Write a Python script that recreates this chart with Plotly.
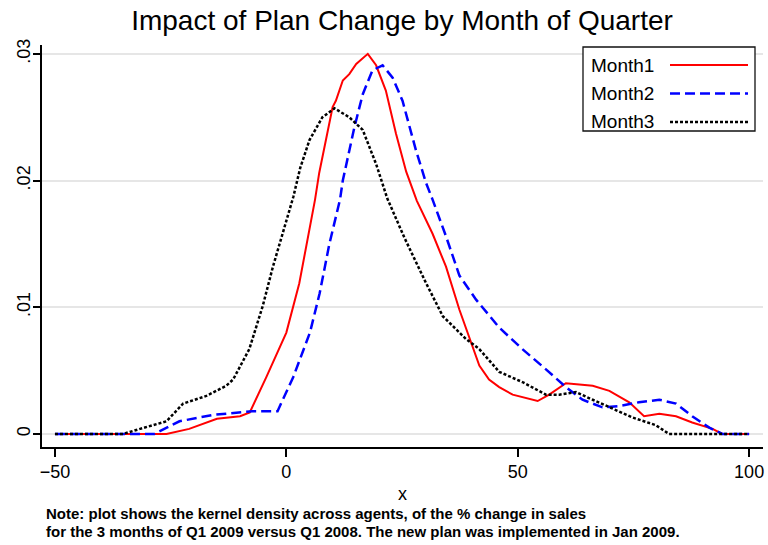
import plotly.graph_objects as go

# Kernel density of % change in sales, by month of the quarter
m1_x = [-50, -28.4, -25.9, -21, -15, -10, -7.9, -4.3, 0, 2.8, 4.8, 6.2, 7.1, 10, 10.7,
        12.2, 13.6, 15.1, 17.6, 19.4, 21.5, 23.7, 25.9, 28.2, 31.6, 34.5, 37.4, 40.2,
        41.7, 43.8, 46, 48.9, 54.3, 56.8, 60.4, 63.3, 66.2, 69.8, 74.1, 77.3, 80.6,
        84.2, 87.7, 92.1, 94.2, 100]
m1_y = [0, 0, 0, 0.0004, 0.0012, 0.0014, 0.0017, 0.0045, 0.0080, 0.0119, 0.0158, 0.0185,
        0.0206, 0.0258, 0.0263, 0.0279, 0.0284, 0.0292, 0.0300, 0.0291, 0.0271, 0.0237,
        0.0207, 0.0184, 0.0158, 0.0132, 0.0098, 0.0069, 0.0054, 0.0043, 0.0037, 0.0031,
        0.0026, 0.0031, 0.0040, 0.0039, 0.0038, 0.0034, 0.0025, 0.0014, 0.0016, 0.0014,
        0.0009, 0.0004, 0, 0]

m2_x = [-50, -28.5, -23.1, -15.9, -7.3, -1.9, 1.5, 5.1, 7.2, 9.3, 11.6, 12.2, 14.7, 16.5,
        18.6, 20.8, 23, 25.1, 28, 30.2, 31.6, 34.5, 37.4, 41, 46, 51, 56.1, 60.4, 64,
        68.3, 71.9, 76.2, 80.6, 84.2, 87.7, 91.4, 94.2, 100]
m2_y = [0, 0, 0.0010, 0.0015, 0.0018, 0.0018, 0.0045, 0.0080, 0.0111, 0.0150, 0.0185,
        0.0200, 0.0242, 0.0268, 0.0287, 0.0291, 0.0281, 0.0263, 0.0224, 0.0198, 0.0185,
        0.0156, 0.0125, 0.0106, 0.0084, 0.0067, 0.0051, 0.0037, 0.0027, 0.0021, 0.0022,
        0.0025, 0.0027, 0.0024, 0.0014, 0.0005, 0, 0]

m3_x = [-50, -35.3, -31.6, -25.9, -22.3, -17.3, -13, -11.5, -8, -5.1, -2.9, -0.8, 1.5,
        3.0, 5, 7.8, 10.4, 13.6, 16.5, 19.4, 21.8, 25.5, 30.2, 33.8, 38.8, 41.7, 46, 51,
        56.1, 59, 62.6, 66.2, 70.5, 74.8, 79.8, 82.7, 100]
m3_y = [0, 0, 0.0004, 0.0010, 0.0024, 0.0030, 0.0038, 0.0043, 0.0067, 0.0101, 0.0132,
        0.0158, 0.0187, 0.0210, 0.0232, 0.0250, 0.0257, 0.0250, 0.0240, 0.0213, 0.0186,
        0.0155, 0.0119, 0.0093, 0.0075, 0.0067, 0.0049, 0.0041, 0.0031, 0.0031, 0.0033,
        0.0027, 0.0020, 0.0013, 0.0007, 0, 0]

series_names = ["Month1", "Month2", "Month3"]
series_colors = ["#ff0000", "#0000ff", "#000000"]
series_dash = ["solid", "10px,5px", "3px,2px"]
series_width = [2, 2.5, 2.5]
y_ticks = [0, 0.01, 0.02, 0.03]
y_tick_text = ["0", ".01", ".02", ".03"]
x_ticks = [-50, 0, 50, 100]

W, H = 768, 545
L, R, T, B = 42, 763, 45, 447  # plot area in pixels

fig = go.Figure()
for xs, ys, name, col, dash, lw in zip([m1_x, m2_x, m3_x], [m1_y, m2_y, m3_y],
                                      series_names, series_colors, series_dash,
                                      series_width):
    fig.add_trace(go.Scatter(x=xs, y=ys, mode="lines", name=name, showlegend=False,
                             line=dict(color=col, dash=dash, width=lw)))


def px_x(p):
    return (p - L) / (R - L)


def px_y(p):
    return (B - p) / (B - T)


# legend box with label first, line sample after
shapes = [dict(type="rect", xref="paper", yref="paper",
               x0=px_x(583), x1=px_x(755), y0=px_y(47), y1=px_y(131),
               line=dict(color="#111111", width=1.3), fillcolor="white", layer="above")]
annotations = []
row_y = [65, 93.5, 122]
for name, col, dash, lw, ry in zip(series_names, series_colors, series_dash,
                                   series_width, row_y):
    annotations.append(dict(xref="paper", yref="paper", x=px_x(589), y=px_y(ry),
                            xanchor="left", yanchor="middle", text=name, showarrow=False,
                            font=dict(family="Liberation Sans, Arial", size=19,
                                      color="#000000")))
    shapes.append(dict(type="line", xref="paper", yref="paper",
                       x0=px_x(670), x1=px_x(748), y0=px_y(ry), y1=px_y(ry),
                       line=dict(color=col, dash=dash, width=lw), layer="above"))

note_lines = ["Note: plot shows the kernel density across agents, of the % change in sales",
              "for the 3 months of Q1 2009 versus Q1 2008. The new plan was implemented in Jan 2009."]
for txt, ny in zip(note_lines, [513, 531]):
    annotations.append(dict(xref="paper", yref="paper", x=px_x(44), y=px_y(ny),
                            xanchor="left", yanchor="middle", text=txt, showarrow=False,
                            font=dict(family="Liberation Sans, Arial", size=15,
                                      color="#000000", weight="bold")))

fig.update_layout(
    width=W, height=H,
    margin=dict(l=L, r=W - R, t=T, b=H - B, pad=0),
    paper_bgcolor="white", plot_bgcolor="white",
    font=dict(family="Liberation Sans, Arial", color="#000000"),
    title=dict(text="Impact of Plan Change by Month of Quarter",
               x=402 / W, xanchor="center", xref="container",
               y=1 - 20 / H, yanchor="middle", yref="container",
               font=dict(size=28, color="#000000")),
    xaxis=dict(range=[-52.8, 103.0], tickvals=x_ticks, ticks="outside", ticklen=8,
               tickwidth=1.5, tickcolor="#000000", showline=True, linecolor="#000000",
               linewidth=1.5, showgrid=False, zeroline=False,
               tickfont=dict(size=18), title=dict(text="x", font=dict(size=18), standoff=6)),
    yaxis=dict(range=[-0.00103, 0.0307], tickvals=y_ticks, ticktext=y_tick_text,
               tickangle=-90, ticks="outside", ticklen=7, tickwidth=1.5,
               tickcolor="#000000", showline=True, linecolor="#000000", linewidth=1.5,
               showgrid=True, gridcolor="#e6e6e6", gridwidth=1.5, zeroline=False,
               tickfont=dict(size=18), ticklabelstandoff=-4),
    shapes=shapes,
    annotations=annotations,
)

fig.write_html("out.html")
